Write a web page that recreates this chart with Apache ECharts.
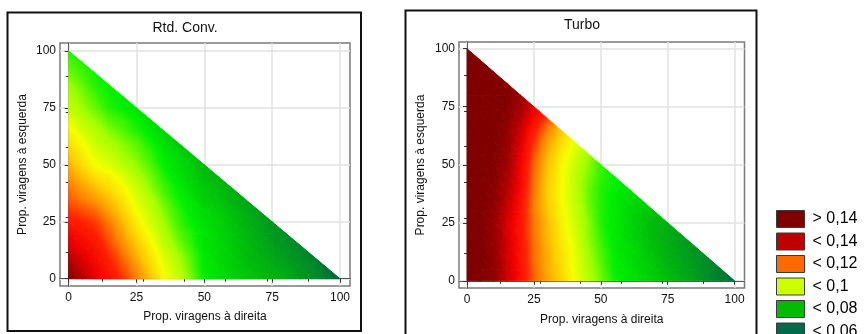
<!DOCTYPE html>
<html>
<head>
<meta charset="utf-8">
<script src="https://cdn.jsdelivr.net/npm/echarts@6/dist/echarts.min.js"></script>
<style>
  html, body { margin: 0; padding: 0; background: #fff; }
  #main { width: 866px; height: 334px; }
</style>
</head>
<body>
<div id="main"></div>
<script>
// grid of readings (same steps on both axes), tick positions, legend
const steps = [0, 5, 10, 15, 20, 25, 30, 35, 40, 45, 50, 55, 60, 65, 70, 75, 80, 85, 90, 95, 100];
const axisTicks = [0, 25, 50, 75, 100];
const topTicks = [12.4, 27.4, 42.5, 57.8, 73.1, 88.3];
const rightTicks = [11.7, 27.1, 42.5, 57.9, 73.0, 88.7];
const legendLabels = ['> 0,14', '< 0,14', '< 0,12', '< 0,1', '< 0,08', '< 0,06'];
const legendColors = ['#800000', '#c00000', '#ff6a00', '#ccff00', '#00bb00', '#006a4a'];
// colour scale, evenly spread from vMin to vMax
const vMin = 0.04, vMax = 0.16;
const scaleColors = ['#004a3c', '#006040', '#008a28', '#00b80c', '#00f000', '#a0ff00', '#f4ff00',
                     '#ffc800', '#ff8000', '#ff2000', '#f00000', '#b40000', '#800000'];

// one row per left-turn share (0, 5, ... 100), values for right-turn share 0, 5, ...
const rtdConv = [
  [0.160, 0.150, 0.142, 0.135, 0.128, 0.120, 0.111, 0.101, 0.095, 0.088, 0.080, 0.077, 0.075, 0.073, 0.071, 0.069, 0.067, 0.064, 0.061, 0.057, 0.050],
  [0.154, 0.146, 0.139, 0.132, 0.125, 0.117, 0.108, 0.099, 0.093, 0.086, 0.079, 0.077, 0.074, 0.072, 0.070, 0.068, 0.066, 0.063, 0.060, 0.054],
  [0.149, 0.142, 0.136, 0.129, 0.122, 0.113, 0.105, 0.097, 0.091, 0.085, 0.079, 0.076, 0.074, 0.071, 0.069, 0.066, 0.064, 0.061, 0.057],
  [0.143, 0.138, 0.133, 0.126, 0.118, 0.110, 0.102, 0.094, 0.088, 0.083, 0.078, 0.076, 0.073, 0.071, 0.068, 0.065, 0.062, 0.059],
  [0.138, 0.134, 0.130, 0.123, 0.115, 0.106, 0.099, 0.092, 0.086, 0.082, 0.078, 0.075, 0.073, 0.070, 0.067, 0.063, 0.061],
  [0.132, 0.130, 0.127, 0.120, 0.112, 0.103, 0.096, 0.090, 0.084, 0.080, 0.077, 0.075, 0.072, 0.069, 0.066, 0.062],
  [0.128, 0.125, 0.122, 0.115, 0.108, 0.100, 0.094, 0.088, 0.083, 0.079, 0.076, 0.074, 0.071, 0.068, 0.064],
  [0.124, 0.120, 0.116, 0.111, 0.104, 0.097, 0.092, 0.086, 0.081, 0.078, 0.074, 0.072, 0.069, 0.066],
  [0.121, 0.116, 0.111, 0.106, 0.101, 0.095, 0.089, 0.084, 0.080, 0.076, 0.073, 0.071, 0.068],
  [0.117, 0.111, 0.105, 0.102, 0.097, 0.092, 0.087, 0.082, 0.078, 0.075, 0.071, 0.069],
  [0.113, 0.106, 0.100, 0.097, 0.093, 0.089, 0.085, 0.080, 0.077, 0.074, 0.070],
  [0.109, 0.103, 0.097, 0.094, 0.090, 0.087, 0.083, 0.079, 0.076, 0.072],
  [0.105, 0.100, 0.094, 0.091, 0.088, 0.085, 0.081, 0.077, 0.073],
  [0.102, 0.096, 0.092, 0.088, 0.085, 0.082, 0.079, 0.075],
  [0.098, 0.093, 0.089, 0.085, 0.083, 0.080, 0.077],
  [0.094, 0.090, 0.086, 0.082, 0.080, 0.078],
  [0.092, 0.088, 0.084, 0.081, 0.079],
  [0.090, 0.086, 0.082, 0.080],
  [0.087, 0.084, 0.081],
  [0.085, 0.082],
  [0.082]
];

const turbo = [
  [0.160, 0.160, 0.157, 0.146, 0.135, 0.123, 0.115, 0.108, 0.100, 0.093, 0.087, 0.081, 0.078, 0.076, 0.074, 0.071, 0.068, 0.065, 0.061, 0.057, 0.053],
  [0.160, 0.160, 0.157, 0.146, 0.135, 0.123, 0.114, 0.107, 0.099, 0.092, 0.086, 0.080, 0.078, 0.075, 0.073, 0.070, 0.067, 0.064, 0.060, 0.056],
  [0.160, 0.160, 0.157, 0.145, 0.134, 0.122, 0.114, 0.106, 0.099, 0.091, 0.085, 0.080, 0.077, 0.075, 0.072, 0.069, 0.066, 0.063, 0.060],
  [0.160, 0.160, 0.156, 0.145, 0.134, 0.122, 0.113, 0.105, 0.098, 0.090, 0.084, 0.079, 0.077, 0.074, 0.071, 0.068, 0.065, 0.062],
  [0.160, 0.160, 0.156, 0.144, 0.133, 0.121, 0.112, 0.104, 0.097, 0.089, 0.083, 0.079, 0.076, 0.073, 0.070, 0.068, 0.065],
  [0.160, 0.160, 0.156, 0.144, 0.133, 0.121, 0.112, 0.103, 0.096, 0.089, 0.082, 0.079, 0.076, 0.073, 0.070, 0.068],
  [0.160, 0.160, 0.157, 0.146, 0.134, 0.120, 0.110, 0.102, 0.095, 0.088, 0.082, 0.079, 0.076, 0.074, 0.072],
  [0.160, 0.160, 0.158, 0.148, 0.135, 0.120, 0.109, 0.101, 0.094, 0.087, 0.082, 0.079, 0.077, 0.075],
  [0.160, 0.160, 0.158, 0.150, 0.137, 0.121, 0.109, 0.101, 0.094, 0.087, 0.082, 0.080, 0.078],
  [0.160, 0.160, 0.159, 0.152, 0.138, 0.122, 0.110, 0.101, 0.094, 0.088, 0.083, 0.080],
  [0.160, 0.160, 0.159, 0.154, 0.139, 0.123, 0.111, 0.102, 0.095, 0.089, 0.083],
  [0.160, 0.160, 0.160, 0.155, 0.141, 0.125, 0.113, 0.104, 0.097, 0.091],
  [0.160, 0.160, 0.160, 0.156, 0.143, 0.128, 0.116, 0.107, 0.099],
  [0.160, 0.160, 0.160, 0.157, 0.146, 0.132, 0.120, 0.110],
  [0.160, 0.160, 0.160, 0.158, 0.150, 0.137, 0.126],
  [0.160, 0.160, 0.160, 0.159, 0.153, 0.143],
  [0.160, 0.160, 0.160, 0.160, 0.156],
  [0.160, 0.160, 0.160, 0.158],
  [0.160, 0.160, 0.160],
  [0.160, 0.160],
  [0.158]
];

const font = "'Liberation Sans', Arial, sans-serif";
const breaks = scaleColors.map((c, k) => vMin + k * (vMax - vMin) / (scaleColors.length - 1));

function colorAt(v) {
  return echarts.color.lerp((v - vMin) / (vMax - vMin), scaleColors);
}

function toCells(rows) {
  const out = [];
  rows.forEach((row, i) => row.forEach((v, j) => out.push([steps[j], steps[i], v])));
  return out;
}

// triangle between three readings, shaded along its value gradient
function shadedTriangle(api, pts, vals) {
  const p = pts.map(q => api.coord(q));
  const dx2 = p[1][0] - p[0][0], dy2 = p[1][1] - p[0][1];
  const dx3 = p[2][0] - p[0][0], dy3 = p[2][1] - p[0][1];
  const dv2 = vals[1] - vals[0], dv3 = vals[2] - vals[0];
  const det = dx2 * dy3 - dx3 * dy2;
  const a = (dv2 * dy3 - dv3 * dy2) / det;
  const b = (dx2 * dv3 - dx3 * dv2) / det;
  const lo = Math.min(...vals), hi = Math.max(...vals);
  const g2 = a * a + b * b;
  let fill;
  if (hi - lo < 1e-6 || !(g2 > 0)) {
    fill = colorAt(lo);
  } else {
    const k = vals.indexOf(lo);
    const sx = p[k][0], sy = p[k][1];
    const ex = sx + a * (hi - lo) / g2, ey = sy + b * (hi - lo) / g2;
    const stops = [{ offset: 0, color: colorAt(lo) }];
    breaks.forEach(bv => {
      if (bv > lo && bv < hi) stops.push({ offset: (bv - lo) / (hi - lo), color: colorAt(bv) });
    });
    stops.push({ offset: 1, color: colorAt(hi) });
    fill = new echarts.graphic.LinearGradient(sx, sy, ex, ey, stops, true);
  }
  return { type: 'polygon', shape: { points: p }, style: { fill: fill, stroke: fill, lineWidth: 1 } };
}

function makeRenderer(rows) {
  return function (params, api) {
    const i = steps.indexOf(api.value(1)), j = steps.indexOf(api.value(0));
    const children = [];
    if (rows[i + 1] && rows[i + 1][j] !== undefined) {
      const x0 = steps[j], x1 = steps[j + 1], y0 = steps[i], y1 = steps[i + 1];
      children.push(shadedTriangle(api, [[x0, y0], [x1, y0], [x0, y1]],
        [rows[i][j], rows[i][j + 1], rows[i + 1][j]]));
      if (rows[i + 1][j + 1] !== undefined) {
        children.push(shadedTriangle(api, [[x1, y0], [x1, y1], [x0, y1]],
          [rows[i][j + 1], rows[i + 1][j + 1], rows[i + 1][j]]));
      }
    }
    return { type: 'group', children: children };
  };
}

function bottomAxis(gi, min, max, gap) {
  return {
    type: 'value', gridIndex: gi, position: 'bottom', min: min, max: max,
    name: 'Prop. viragens à direita', nameLocation: 'middle', nameGap: gap,
    nameTextStyle: { fontFamily: font, fontSize: 12, color: '#111' },
    axisLine: { show: true, lineStyle: { color: '#555', width: 1 } },
    axisTick: { show: true, customValues: axisTicks, length: 4, lineStyle: { color: '#333' } },
    axisLabel: { customValues: axisTicks, margin: 6, fontFamily: font, fontSize: 12, color: '#111' },
    splitLine: { show: true, lineStyle: { color: '#e2e2e2', width: 1.5 } }
  };
}

function leftAxis(gi, min, max, gap) {
  return {
    type: 'value', gridIndex: gi, position: 'left', min: min, max: max,
    name: 'Prop. viragens à esquerda', nameLocation: 'middle', nameGap: gap,
    nameTextStyle: { fontFamily: font, fontSize: 12, color: '#111' },
    axisLine: { show: true, lineStyle: { color: '#555', width: 1 } },
    axisTick: { show: true, customValues: axisTicks, length: 4, lineStyle: { color: '#333' } },
    axisLabel: { customValues: axisTicks, margin: 4, fontFamily: font, fontSize: 12, color: '#111' },
    splitLine: { show: true, lineStyle: { color: '#e2e2e2', width: 1.5 } }
  };
}

function innerAxis(gi, pos, min, max, ticks) {
  return {
    type: 'value', gridIndex: gi, position: pos, min: min, max: max,
    axisLine: { show: false },
    axisTick: { show: true, inside: true, length: 3, customValues: ticks, lineStyle: { color: '#333' } },
    axisLabel: { show: false },
    splitLine: { show: false }
  };
}

let myChart = echarts.init(document.getElementById('main'));
myChart.setOption({
  animation: false,
  backgroundColor: '#fff',
  graphic: [
    { type: 'rect', shape: { x: 7.5, y: 12.5, width: 353.5, height: 318.5 }, style: { fill: null, stroke: '#111', lineWidth: 2 }, z: 100 },
    { type: 'rect', shape: { x: 405.5, y: 10.5, width: 351, height: 330 }, style: { fill: null, stroke: '#111', lineWidth: 2 }, z: 100 },
    { type: 'text', x: 185, y: 28, style: { text: 'Rtd. Conv.', font: '14px ' + font, fill: '#111', textAlign: 'center', textVerticalAlign: 'middle' } },
    { type: 'text', x: 582, y: 25, style: { text: 'Turbo', font: '14px ' + font, fill: '#111', textAlign: 'center', textVerticalAlign: 'middle' } }
  ],
  grid: [
    { left: 60, top: 43, width: 290, height: 243, show: true, backgroundColor: '#fff', borderColor: '#7a7a7a', borderWidth: 1.5 },
    { left: 459, top: 42, width: 285.5, height: 246, show: true, backgroundColor: '#fff', borderColor: '#7a7a7a', borderWidth: 1.5 }
  ],
  xAxis: [
    bottomAxis(0, -3.2, 103.7, 25),
    innerAxis(0, 'top', -3.2, 103.7, topTicks),
    bottomAxis(1, -3.0, 103.7, 26),
    innerAxis(1, 'top', -3.0, 103.7, topTicks)
  ],
  yAxis: [
    leftAxis(0, -3.2, 103.5, 31),
    innerAxis(0, 'right', -3.2, 103.5, rightTicks),
    leftAxis(1, -3.1, 102.9, 32),
    innerAxis(1, 'right', -3.1, 102.9, rightTicks)
  ],
  legend: {
    orient: 'vertical', left: 776, top: 210, height: 160, padding: 0,
    itemWidth: 28, itemHeight: 17, itemGap: 4.5,
    icon: 'rect', selectedMode: false,
    itemStyle: { borderColor: '#3a3a3a', borderWidth: 1 },
    textStyle: { fontFamily: font, fontSize: 16, lineHeight: 17, color: '#000', padding: [0, 0, 0, 3] },
    data: legendLabels
  },
  series: [
    { name: 'Rtd. Conv.', type: 'custom', xAxisIndex: 0, yAxisIndex: 0, renderItem: makeRenderer(rtdConv),
      encode: { x: 0, y: 1 }, data: toCells(rtdConv) },
    { name: 'Turbo', type: 'custom', xAxisIndex: 2, yAxisIndex: 2, renderItem: makeRenderer(turbo),
      encode: { x: 0, y: 1 }, data: toCells(turbo) }
  ].concat(legendLabels.map((name, i) => ({
    name: name, type: 'scatter', xAxisIndex: 0, yAxisIndex: 0, data: [],
    itemStyle: { color: legendColors[i], opacity: 1 }
  })))
});
</script>
</body>
</html>
